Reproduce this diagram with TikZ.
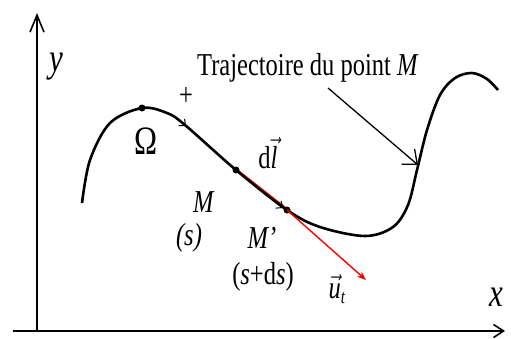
\documentclass[tikz,border=0pt]{standalone}
\usepackage{fontspec}
\setmainfont{Liberation Serif}
\usetikzlibrary{arrows.meta}
\newcommand{\vst}[1]{\scalebox{1}[1.3]{#1}}
\begin{document}
\begin{tikzpicture}[x=1pt,y=-1pt,
  lbl/.style={font=\fontsize{24.5}{26}\selectfont, inner sep=0pt},
  big/.style={font=\fontsize{31}{33}\selectfont, inner sep=0pt},
  dotp/.style={circle, fill=black, inner sep=0pt, minimum size=7pt}]
\useasboundingbox (0,0) rectangle (511,338);
% axes
\coordinate (O) at (37,331);
\coordinate (Ytop) at (37,13);
\coordinate (Xl) at (13,331);
\coordinate (Xr) at (505,331);
\draw[line width=1.6pt, -{Straight Barb[length=17pt,width=14pt,line width=1.6pt]}] (O) -- (Ytop);
\draw[line width=1.6pt, -{Straight Barb[length=10pt,width=13pt,line width=1.6pt]}] (Xl) -- (Xr);
\node[big] (ylab) at (56,67) {\vst{\textit{y}}};
\node[big] (xlab) at (496,297) {\vst{\textit{x}}};
% curve
\coordinate (S) at (82,203);
\coordinate (Om) at (142,108);
\coordinate (M) at (236,170);
\coordinate (Mp) at (287,210);
\coordinate (E) at (498,90);
\draw[red, line width=1.4pt] ([yshift=1.2pt]M) -- ([yshift=1.2pt]Mp);
\draw[line width=2.6pt] plot[smooth, tension=0.55] coordinates {
 (S) (90,160) (110,123) (Om) (167,113) (185,125) (M) (Mp) (320,227) (365,236)
 (393,227) (408,205) (417,170) (427,130) (440,95) (455,78) (472,73) (487,79) (E)};
% small arrow marks on curve
\draw[line width=1pt, -{Straight Barb[length=5pt,width=9pt,line width=1pt]}] (179,120) -- (186,126);
\draw[line width=1pt, -{Straight Barb[length=5pt,width=9pt,line width=1pt]}] (275,202) -- (283,208);
% dots
\node[dotp] (dOm) at (Om) {};
\node[dotp] (dM) at (M) {};
\node[dotp] (dMp) at (Mp) {};
% red vector
\coordinate (Ut) at (366,280);
\draw[red, line width=1.4pt, -{Stealth[length=9pt,width=7pt]}] (dMp.center) -- (Ut);
% labels
\node[lbl] (plus) at (186,96) {\vst{+}};
\node[big] (omlab) at (146,141) {\vst{Ω}};
\node[lbl] (dl) at (268,153) {\vst{d$\vec{\mbox{\itshape l}}$}};
\node[lbl] (Mlab) at (204,202) {\vst{\textit{M}}};
\node[lbl] (slab) at (189,238) {\vst{\textit{(s)}}};
\node[lbl] (Mplab) at (262,238) {\vst{\textit{M'}}};
\node[lbl] (sdslab) at (263,277) {\vst{(\textit{s}+d\textit{s})}};
\node[lbl] (utlab) at (337,289) {\vst{$\vec{\mbox{\itshape u}}_{\mbox{\fontsize{15}{16}\selectfont\itshape t}}$}};
\node[lbl, anchor=base west] (traj) at (197,75) {\vst{Trajectoire du point \textit{M}}};
\coordinate (Tstart) at (328,88);
\coordinate (Tend) at (418,165);
\draw[line width=1.3pt, -{Straight Barb[length=12pt,width=20pt,line width=1.3pt]}] (Tstart) -- (Tend);
\end{tikzpicture}
\end{document}
